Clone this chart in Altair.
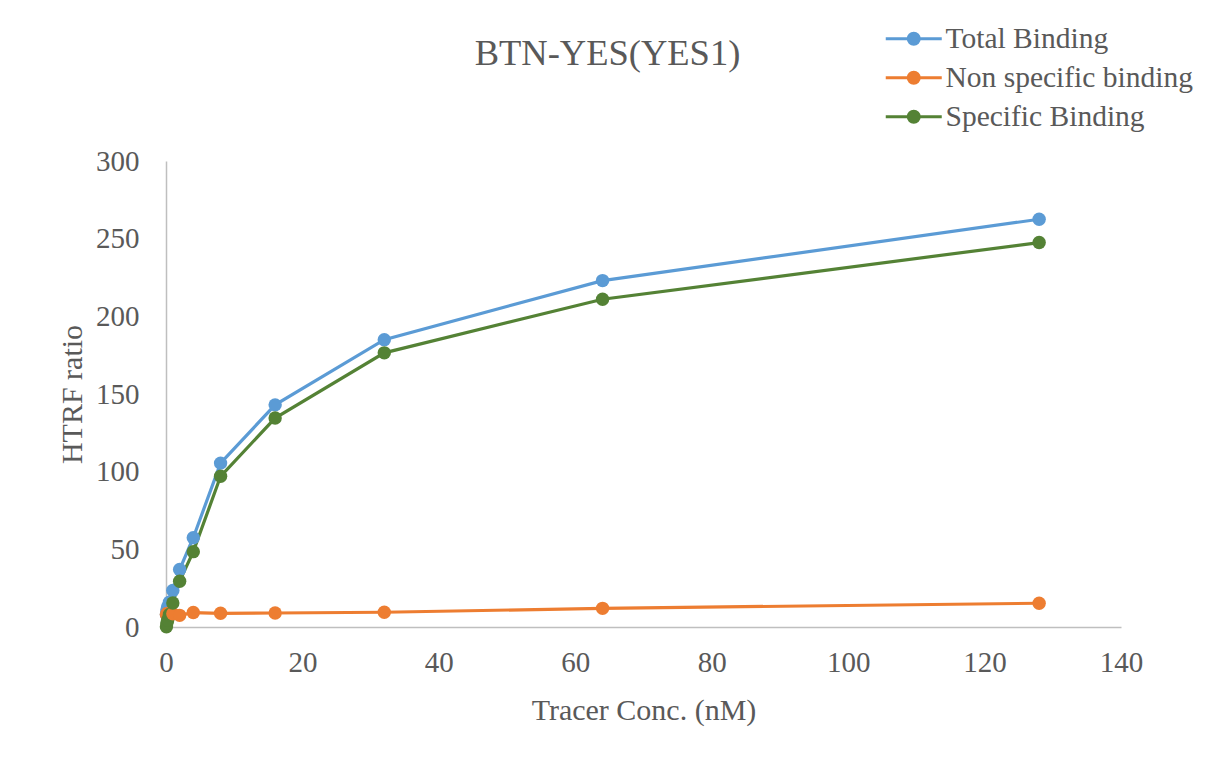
import altair as alt
import pandas as pd

conc = [0.0625, 0.125, 0.25, 0.5, 1, 2, 4, 8, 16, 32, 64, 128]
total = [8, 11, 13, 16, 23.5, 37, 57.5, 105.5, 143, 185, 223, 262.5]
nonspec = [8, 8.5, 9, 9, 8.5, 7.5, 9.3, 8.8, 9, 9.5, 12, 15.3]
spec = [0.2, 2.5, 4.5, 8, 15.5, 29.5, 48.5, 97, 134.5, 176.5, 211, 247.5]
series = ["Total Binding", "Non specific binding", "Specific Binding"]
colors = ["#5B9BD5", "#ED7D31", "#548235"]
x_ticks = [0, 20, 40, 60, 80, 100, 120, 140]
y_ticks = [0, 50, 100, 150, 200, 250, 300]

rows = []
for name, vals in zip(series, [total, nonspec, spec]):
    for c, v in zip(conc, vals):
        rows.append({"conc": c, "value": v, "series": name})
df = pd.DataFrame(rows)

FONT = "Liberation Serif"
TXT = "#595959"
S = 10.0  # symbol scale: sqrt(size)/2


def ring(rad):
    return f"M-{rad:.4f},0A{rad:.4f},{rad:.4f},0,1,1,{rad:.4f},0A{rad:.4f},{rad:.4f},0,1,1,-{rad:.4f},0"


hw = 28 / S
sym = f"M-{hw:.3f},0L{hw:.3f},0" + "".join(ring(p / S) for p in (1.5, 4.0, 5.5))

color = alt.Color(
    "series:N",
    scale=alt.Scale(domain=series, range=colors),
    sort=series,
    legend=alt.Legend(
        title=None,
        orient="none",
        legendX=733,
        legendY=-137,
        symbolType=sym,
        symbolSize=(2 * S) ** 2,
        symbolStrokeWidth=3,
        labelFont=FONT,
        labelFontSize=29.5,
        labelColor=TXT,
        labelOffset=17,
        rowPadding=8,
        labelLimit=400,
    ),
)

x = alt.X("conc:Q", scale=alt.Scale(domain=[0, 140], nice=False),
          axis=alt.Axis(values=x_ticks, title="Tracer Conc. (nM)", titlePadding=18,
                        labelFlush=False))
y = alt.Y("value:Q", scale=alt.Scale(domain=[0, 300], nice=False),
          axis=alt.Axis(values=y_ticks, title="HTRF ratio", titlePadding=8,
                        labelFlush=False))

base = alt.Chart(df).encode(x=x, y=y, color=color, order=alt.Order("conc:Q"))
lines = base.mark_line(strokeWidth=3.2)
pts = base.mark_circle(size=180, opacity=1)

chart = alt.layer(lines, pts).properties(
    width=955,
    height=466,
    autosize=alt.AutoSizeParams(type="none"),
    padding={"left": 158, "top": 153, "right": 76, "bottom": 124},
    title=alt.TitleParams(
        "BTN-YES(YES1)", font=FONT, fontSize=36.5, fontWeight="normal",
        color=TXT, anchor="middle", dx=-36, offset=-77, baseline="alphabetic",
    ),
).configure_view(stroke=None).configure_axis(
    grid=False, ticks=False,
    domainColor="#BFBFBF", domainWidth=1.5,
    labelFont=FONT, labelFontSize=29, labelColor=TXT,
    titleFont=FONT, titleFontSize=30, titleColor=TXT, titleFontWeight="normal",
).configure_axisX(labelPadding=21).configure_axisY(labelPadding=27)

chart.save("out.html", embed_options={"renderer": "svg", "actions": False})
